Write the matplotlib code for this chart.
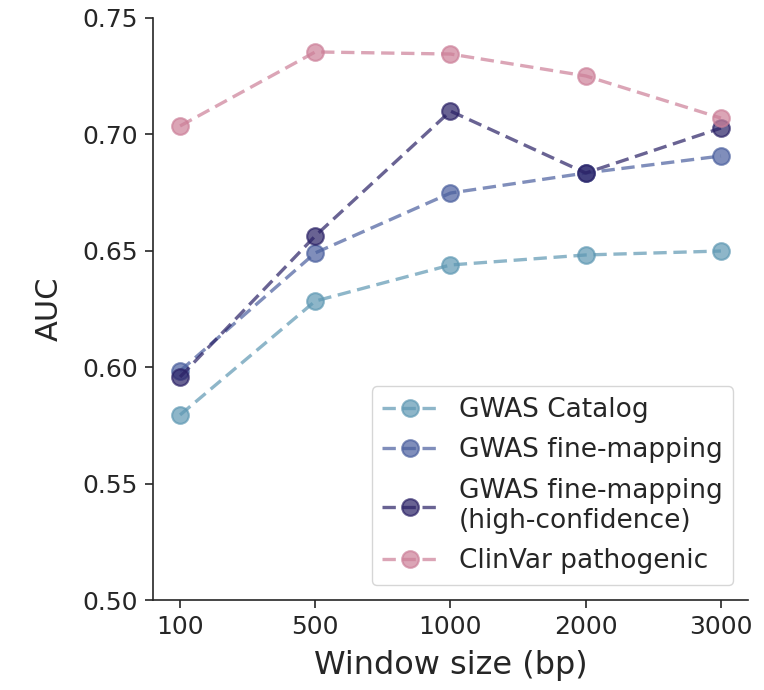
import matplotlib
matplotlib.use('Agg')
import matplotlib.pyplot as plt
import seaborn as sns

sns.set_style('ticks')

windows = ['100', '500', '1000', '2000', '3000']
gwas_catalog = [0.5795, 0.6284, 0.6439, 0.6482, 0.6499]
gwas_fine = [0.5984, 0.6491, 0.6748, 0.6834, 0.6907]
gwas_fine_hc = [0.5958, 0.6564, 0.7100, 0.6834, 0.7027]
clinvar = [0.7036, 0.7354, 0.7345, 0.7251, 0.7070]

series = [
    ('GWAS Catalog', gwas_catalog, '#5e98b3'),
    ('GWAS fine-mapping', gwas_fine, '#4a5f9e'),
    ('GWAS fine-mapping\n(high-confidence)', gwas_fine_hc, '#2a2166'),
    ('ClinVar pathogenic', clinvar, '#cc7f98'),
]

fig = plt.figure(figsize=(7.64, 6.9), dpi=100)
ax = fig.add_axes([0.2003, 0.1304, 0.7787, 0.8436])

x = list(range(len(windows)))
for name, vals, col in series:
    ax.plot(x, vals, linestyle='--', marker='o', color=col, alpha=0.7,
            linewidth=2.4, markersize=12, markeredgewidth=1.5,
            dashes=(4, 2), label=name)

ax.set_xlim(-0.2, 4.2)
ax.set_ylim(0.5, 0.75)
ax.set_xticks(x)
ax.set_xticklabels(windows)
ax.set_yticks([0.5, 0.55, 0.6, 0.65, 0.7, 0.75])
ax.set_yticklabels(['0.50', '0.55', '0.60', '0.65', '0.70', '0.75'])
ax.tick_params(labelsize=18, length=6, width=1.2, pad=5)
ax.set_xlabel('Window size (bp)', fontsize=23, labelpad=8)
ax.set_ylabel('AUC', fontsize=22, labelpad=13)
for s in ['left', 'bottom']:
    ax.spines[s].set_linewidth(1.2)
sns.despine(ax=ax)

ax.legend(loc='lower right', fontsize=19, frameon=True, handlelength=2.1,
          labelspacing=0.55, handletextpad=0.8, borderpad=0.4,
          borderaxespad=0, bbox_to_anchor=(0.975, 0.026))

fig.savefig('out.png', dpi=100)
